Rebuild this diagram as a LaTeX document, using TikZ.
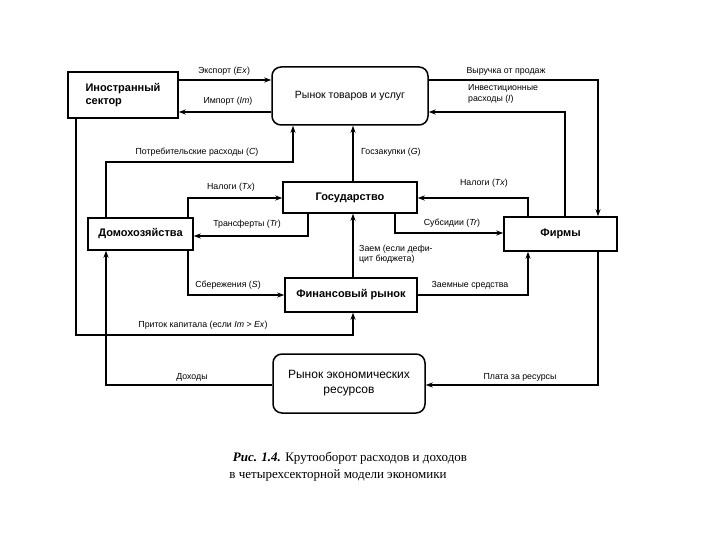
\documentclass[tikz,border=0pt]{standalone}
\usepackage{fontspec}
\setmainfont{Liberation Sans}
\newfontfamily\capfont{Liberation Serif}
\usetikzlibrary{arrows.meta,calc}
\begin{document}
\begin{tikzpicture}[x=1pt,y=-1pt,
  boxs/.style={draw,line width=1.5pt,inner sep=0pt,font=\fontsize{11}{13}\selectfont\bfseries,align=center},
  rbox/.style={draw,line width=1.5pt,inner sep=0pt,align=center,rounded corners=9pt},
  conn/.style={line width=1.1pt,-{Stealth[length=7pt,width=5pt]}},
  lab/.style={font=\fontsize{8.8}{10.5}\selectfont,inner sep=0pt}]
\fill[white] (0,0) rectangle (720,540);
\useasboundingbox (0,0) rectangle (720,540);
% boxes
\node[boxs,minimum width=110pt,minimum height=46pt,align=left] (fs) at (123,95) {Иностранный\\сектор};
\node[rbox,minimum width=156pt,minimum height=58pt,font=\fontsize{10.5}{13}\selectfont] (gm) at (350,96) {Рынок товаров и услуг};
\node[boxs,minimum width=134pt,minimum height=31pt] (gov) at (350,197.5) {Государство};
\node[boxs,minimum width=105pt,minimum height=32pt] (hh) at (140.5,234) {Домохозяйства};
\node[boxs,minimum width=113pt,minimum height=34pt] (firms) at (560.5,234) {Фирмы};
\node[boxs,minimum width=132pt,minimum height=34pt] (fin) at (351,295) {Финансовый рынок};
\node[rbox,minimum width=152pt,minimum height=59pt,font=\fontsize{12}{15}\selectfont] (res) at (349,383.5) {Рынок экономических\\ресурсов};
% connectors
\draw[conn] (fs.east |- 0,80) -- (gm.west |- 0,80);
\node[lab] (lex) at (224,71) {Экспорт (\textit{Ex})};
\draw[conn] (gm.west |- 0,112) -- (fs.east |- 0,112);
\node[lab] (lim) at (228,101) {Импорт (\textit{Im})};
\draw[conn] (gm.east |- 0,80) -| (firms.north -| 598,0);
\node[lab] (lrev) at (506,71) {Выручка от продаж};
\draw[conn] (firms.north -| 565,0) |- (gm.east |- 0,112);
\node[lab,align=left,anchor=west] (linv) at (468,94) {Инвестиционные\\расходы (\textit{I})};
\draw[conn] (hh.north -| 106,0) -- (106,162) -- (293,162) -- (gm.south -| 293,0);
\node[lab] (lc) at (197,152) {Потребительские расходы (\textit{C})};
\draw[conn] (gov.north -| 353,0) -- (gm.south -| 353,0);
\node[lab,anchor=west] (lg) at (361,152) {Госзакупки (\textit{G})};
\draw[conn] (hh.north -| 188,0) |- (gov.west |- 0,198);
\node[lab] (ltx1) at (231,187) {Налоги (\textit{Tx})};
\draw[conn] (gov.south -| 308,0) |- (hh.east |- 0,236);
\node[lab] (ltr) at (247,224) {Трансферты (\textit{Tr})};
\draw[conn] (firms.north -| 528,0) |- (gov.east |- 0,198);
\node[lab] (ltx2) at (484,183) {Налоги (\textit{Tx})};
\draw[conn] (gov.south -| 395,0) |- (firms.west |- 0,233);
\node[lab] (lsub) at (452,223) {Субсидии (\textit{Tr})};
\draw[conn] (fin.north -| 353,0) -- (gov.south -| 353,0);
\node[lab,align=left,anchor=west] (lloan) at (359,254) {Заем (если дефи-\\цит бюджета)};
\draw[conn] (hh.south -| 188,0) |- (fin.west |- 0,295);
\node[lab] (ls) at (228,285) {Сбережения (\textit{S})};
\draw[conn] (fin.east |- 0,295) -| (firms.south -| 528,0);
\node[lab] (lfunds) at (470,285) {Заемные средства};
\draw[conn] (fs.south -| 76,0) -- (76,335) -- (353,335) -- (fin.south -| 353,0);
\node[lab] (lcap) at (203,325) {Приток капитала (если \textit{Im} > \textit{Ex})};
\draw[conn] (res.west |- 0,385) -| (hh.south -| 106,0);
\node[lab] (linc) at (192,377) {Доходы};
\draw[conn] (firms.south -| 598,0) |- (res.east |- 0,385);
\node[lab] (lpay) at (520,377) {Плата за ресурсы};
% caption
\node[font=\capfont\fontsize{13}{15}\selectfont,inner sep=0pt] (cap1) at (350,458) {\textbf{\textit{Рис. 1.4.}} Крутооборот расходов и доходов};
\node[font=\capfont\fontsize{13}{15}\selectfont,inner sep=0pt] (cap2) at (338,475) {в четырехсекторной модели экономики};
\end{tikzpicture}
\end{document}
